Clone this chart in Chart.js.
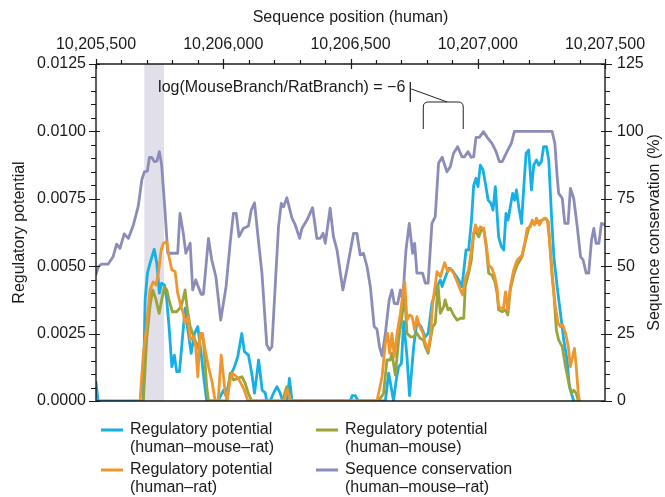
<!DOCTYPE html>
<html>
<head>
<meta charset="utf-8">
<script src="https://cdn.jsdelivr.net/npm/chart.js@4/dist/chart.umd.min.js"></script>
<style>
  html, body { margin: 0; padding: 0; background: #ffffff; }
  #wrap { width: 665px; height: 497px; }
</style>
</head>
<body>
<div id="wrap"><canvas id="c" width="665" height="497"></canvas></div>
<script>
// ---------- DATA ----------
const START = 10205500;              // first position on the axis (bp)
const SPAN = 2000;                   // axis length (bp)
const X_TICK_STEP = 500;

// Sequence conservation (human-mouse-rat), % ; positions are bp offsets from START
const consPos = [0,9,22,48,67,81,94,111,127,147,166,180,190,202,210,219,229,239,249,258,271,282,321,330,343,353,370,380,392,413,422,442,455,471,490,511,527,540,551,562,579,599,610,623,638,652,671,682,691,704,717,728,737,750,770,783,800,809,829,851,868,881,892,901,920,933,947,970,988,1012,1025,1038,1051,1065,1078,1093,1104,1114,1124,1137,1152,1163,1172,1185,1196,1205,1218,1231,1244,1252,1261,1283,1294,1305,1320,1333,1346,1360,1379,1392,1405,1421,1438,1448,1462,1474,1484,1493,1506,1523,1537,1556,1572,1585,1596,1615,1632,1644,1792,1803,1812,1818,1832,1842,1855,1864,1877,1891,1904,1914,1926,1936,1947,1956,1965,1976,1986,2000];
const consVal = [47,49.8,50.8,50.8,53.5,58.2,56.6,62,60.3,65.3,72.3,82,85,85.3,90.4,90.4,88.8,89,92.5,87.5,70.8,54.8,54.8,69.6,62.2,54.8,58.5,41.2,44.9,39.6,39.6,60.3,52.3,46.1,30,42.4,58.5,69.6,69.6,61,64,64.9,70.8,73.5,59.7,47.4,20.8,18.9,20.1,42.4,64.6,73.3,72,75.4,67.8,65.3,60.3,64,67.1,71.7,60.3,60.3,62.2,58.5,71.5,61,56,41.2,49.8,62.2,62.2,54.2,54.8,49.8,42.4,27.6,26.6,20.1,16.7,25.1,37.5,41.2,36.2,36,41.2,37.5,56,65.9,54.8,58.5,47.4,47.4,43.7,43.7,65.9,68.4,88.2,90.4,85,86.9,91.9,94.3,90.6,90.6,92.5,90.4,90.6,97.8,97.8,99.9,97.8,95.6,92.5,88.8,88.8,92.5,95.6,100,100,95.6,83.2,77,75.2,65.9,65.9,78.9,75.2,64.6,53.5,52.3,47.4,47.4,59.7,64,58.5,58.5,65.9,65.3];

// Regulatory potential (human-mouse-rat)
const hmrPos = [0,8,185,193,202,212,229,239,249,258,269,278,287,298,308,317,328,339,350,361,374,387,400,413,426,435,480,488,501,511,527,544,557,573,583,599,612,623,639,653,665,671,684,697,711,724,734,751,760,770,999,1007,1019,1030,1137,1150,1160,1169,1180,1189,1200,1209,1222,1232,1248,1261,1277,1294,1305,1320,1340,1353,1360,1366,1386,1399,1425,1438,1454,1464,1475,1484,1493,1501,1510,1521,1530,1541,1552,1560,1569,1582,1593,1602,1611,1619,1637,1645,1652,1661,1672,1681,1690,1700,1711,1720,1731,1740,1750,1759,1770,1779,1790,1799,1812,1825,1838,1851,1860,1868,1877];
const hmrVal = [0.0007,0,0,0.00375,0.00474,0.0051,0.00563,0.0051,0.004,0.00437,0.0043,0.00375,0.00276,0.00127,0.0017,0.00109,0.00109,0.00226,0.00344,0.00263,0.00177,0.00251,0.00276,0.00177,0.00066,0,0,0.00016,0.0004,0.0002,0.0009,0.00127,0.00164,0.00251,0.00183,0.0017,0.00103,0.00029,0.00152,0.0004,0.0003,0,0,0.00028,0.00053,0.00028,0,0,0.00084,0,0,0.0002,0.0002,0,0,0.00103,0.0005,0,0.0008,0.00127,0.0014,0.00294,0.00164,0.0002,0.002,0.00294,0.00276,0.00238,0.00251,0.00362,0.00424,0.00449,0.00424,0.00442,0.00492,0.00486,0.00449,0.00424,0.0056,0.0056,0.00665,0.008,0.00826,0.00795,0.00875,0.00857,0.00807,0.00745,0.00733,0.00708,0.00795,0.00609,0.00572,0.0056,0.00696,0.00671,0.0077,0.00745,0.00783,0.00721,0.00659,0.00795,0.00919,0.00931,0.00783,0.00875,0.00894,0.00875,0.00888,0.00943,0.00943,0.00894,0.00684,0.00535,0.00424,0.00325,0.00226,0.00152,0.00053,0.00028,0];

// Regulatory potential (human-mouse)
const hmPos = [186,199,212,223,236,248,258,269,278,287,300,317,334,343,350,359,370,389,400,413,422,435,442,515,527,540,557,573,586,599,612,735,743,750,766,1110,1130,1143,1156,1163,1176,1189,1202,1213,1222,1235,1248,1261,1274,1287,1294,1305,1323,1333,1344,1353,1366,1372,1383,1392,1405,1419,1432,1445,1451,1464,1475,1484,1493,1504,1514,1523,1533,1543,1556,1567,1576,1582,1596,1609,1618,1628,1641,1655,1674,1687,1700,1714,1727,1753,1766,1777,1786,1799,1809,1818,1832,1845,1858,1868,1877,1887,1895];
const hmVal = [0,0.00226,0.0035,0.00412,0.00375,0.00325,0.00375,0.00424,0.00412,0.00375,0.00331,0.00331,0.0035,0.00381,0.00412,0.00338,0.00276,0.00226,0.00195,0.00251,0.00226,0.00053,0,0,0.00103,0.00078,0.00084,0.0009,0.00066,0.00028,0,0,0.00034,0.00053,0,0,0.00028,0.00152,0.00152,0.00177,0.00096,0.00226,0.00313,0.00387,0.00251,0.00238,0.00238,0.00251,0.00232,0.00226,0.00201,0.00177,0.00276,0.00288,0.0043,0.00325,0.0035,0.00375,0.00338,0.00344,0.00319,0.003,0.00307,0.00307,0.00424,0.00474,0.00523,0.00622,0.00628,0.00609,0.00634,0.0064,0.00572,0.00474,0.00467,0.00442,0.004,0.00338,0.00331,0.00338,0.00319,0.00412,0.00467,0.00504,0.00535,0.00591,0.0064,0.00665,0.00659,0.00671,0.00678,0.00665,0.00548,0.004,0.00263,0.00226,0.00201,0.00127,0.00066,0.00028,0.0004,0.00028,0];

// Regulatory potential (human-rat)
const hrPos = [173,186,199,212,225,236,245,256,265,278,287,298,311,321,334,343,350,361,370,383,392,400,409,418,429,442,457,468,480,492,505,514,527,536,553,566,583,597,739,751,759,767,1104,1124,1137,1146,1154,1163,1172,1183,1196,1206,1213,1222,1232,1242,1252,1261,1272,1285,1294,1305,1314,1323,1340,1353,1370,1382,1392,1405,1419,1432,1441,1451,1464,1475,1484,1491,1501,1510,1523,1533,1543,1556,1567,1576,1582,1593,1601,1609,1618,1628,1641,1655,1674,1687,1694,1707,1714,1723,1731,1742,1753,1763,1773,1782,1792,1805,1816,1825,1834,1845,1856,1864,1880,1887,1895,1900];
const hrVal = [0,0.00177,0.00276,0.00412,0.00442,0.0043,0.00474,0.0056,0.00585,0.00591,0.00535,0.00486,0.0048,0.004,0.0035,0.00325,0.00288,0.00313,0.00226,0.00238,0.00201,0.0009,0.00251,0.00251,0.00189,0.00127,0.00066,0,0,0.0017,0.00053,0,0.00078,0.00103,0.0009,0.00072,0.0004,0,0,0.0004,0.0002,0,0,0.0009,0.00214,0.00251,0.00177,0.00251,0.00164,0.00251,0.00325,0.004,0.00442,0.003,0.00319,0.00313,0.00263,0.00313,0.00276,0.00251,0.00214,0.00189,0.00238,0.00362,0.0048,0.00461,0.00513,0.0048,0.00492,0.00474,0.00442,0.00412,0.00393,0.00455,0.00486,0.0056,0.00622,0.00653,0.00628,0.00646,0.0064,0.00585,0.00504,0.00492,0.00461,0.00418,0.0035,0.00344,0.00344,0.00405,0.00338,0.00424,0.00486,0.00523,0.00541,0.00597,0.0064,0.00646,0.00671,0.00653,0.00678,0.00653,0.00671,0.00678,0.00671,0.00597,0.00461,0.0035,0.00288,0.00276,0.00282,0.00251,0.00201,0.00127,0.00195,0.00127,0.00028,0];

// Axis ranges / ticks
const REG_MAX = 0.0125, REG_STEP = 0.0025, REG_MINOR = 0.0005;
const CONS_MAX = 125, CONS_STEP = 25, CONS_MINOR = 5;
const X_MINOR = 100;

// Highlighted region (bp offsets)
const BAND = [190, 267];

// Annotation
const ANNOT_TEXT = 'log(MouseBranch/RatBranch) = \u22126';
const ANNOT_AT = { x: 244, y: 0.01161 };
const ANNOT_BAR = { x: 1235, y0: 0.011832, y1: 0.011091 };
const ANNOT_DIAG = { x0: 1239, y0: 0.011573, x1: 1380, y1: 0.011091 };
const ANNOT_BRACKET = { x0: 1286, x1: 1443, yTop: 0.011091, yBot: 0.010089 };

// Legend entries (in legend reading order)
const LEGEND = [
  { key: 'hmr', lines: ['Regulatory potential', '(human\u2013mouse\u2013rat)'] },
  { key: 'hm',  lines: ['Regulatory potential', '(human\u2013mouse)'] },
  { key: 'hr',  lines: ['Regulatory potential', '(human\u2013rat)'] },
  { key: 'cons',lines: ['Sequence conservation', '(human\u2013mouse\u2013rat)'] }
];

const COLORS = { hmr: '#16afe6', hm: '#9aa43b', hr: '#f0962f', cons: '#8b8db8', band: '#e1dfea', ink: '#1a1a1a' };
const FONT = "'Liberation Sans', Arial, Helvetica, sans-serif";
const FS = 16;

// ---------- BUILD ----------
const toXY = (pos, val) => pos.map((p, i) => ({ x: START + p, y: val[i] }));

function lineDs(key, label, pos, val, axis, order) {
  return {
    key, label, data: toXY(pos, val), yAxisID: axis, order,
    borderColor: COLORS[key], backgroundColor: COLORS[key],
    borderWidth: 2.8, pointRadius: 0, pointHoverRadius: 0, tension: 0,
    borderJoinStyle: 'round', borderCapStyle: 'round', clip: 0, fill: false
  };
}

const datasets = [
  lineDs('hr', 'Regulatory potential (human–rat)', hrPos, hrVal, 'y', 1),
  lineDs('hm', 'Regulatory potential (human–mouse)', hmPos, hmVal, 'y', 2),
  lineDs('hmr', 'Regulatory potential (human–mouse–rat)', hmrPos, hmrVal, 'y', 3),
  lineDs('cons', 'Sequence conservation (human–mouse–rat)', consPos, consVal, 'y2', 4)
];

const decor = {
  id: 'decor',
  beforeDatasetsDraw(chart) {
    const { ctx, chartArea: a, scales: { x } } = chart;
    const x0 = x.getPixelForValue(START + BAND[0]);
    const x1 = x.getPixelForValue(START + BAND[1]);
    ctx.save();
    ctx.fillStyle = COLORS.band;
    ctx.fillRect(x0, a.top, x1 - x0, a.bottom - a.top);
    ctx.restore();
  },
  afterDatasetsDraw(chart) {
    const { ctx, chartArea: a, scales: { x, y, y2 } } = chart;
    ctx.save();
    ctx.strokeStyle = COLORS.ink;
    ctx.lineWidth = 1.4;
    ctx.beginPath();
    ctx.moveTo(a.left, a.top); ctx.lineTo(a.right, a.top);
    ctx.moveTo(a.left, a.bottom); ctx.lineTo(a.right, a.bottom);
    ctx.moveTo(a.left, a.top); ctx.lineTo(a.left, a.bottom);
    ctx.moveTo(a.right, a.top); ctx.lineTo(a.right, a.bottom);
    ctx.stroke();
    ctx.lineWidth = 1.2;
    ctx.beginPath();
    const nL = Math.round(REG_MAX / REG_MINOR);
    const perL = Math.round(REG_STEP / REG_MINOR);
    for (let k = 0; k <= nL; k++) {
      const py = Math.round(y.getPixelForValue(k * REG_MINOR)) + 0.5;
      const major = k % perL === 0;
      ctx.moveTo(a.left - (major ? 7 : 5), py);
      ctx.lineTo(a.left + (major ? 4 : 0), py);
    }
    const nR = Math.round(CONS_MAX / CONS_MINOR);
    const perR = Math.round(CONS_STEP / CONS_MINOR);
    for (let k = 0; k <= nR; k++) {
      const py = Math.round(y2.getPixelForValue(k * CONS_MINOR)) + 0.5;
      const major = k % perR === 0;
      ctx.moveTo(a.right - (major ? 4 : 0), py);
      ctx.lineTo(a.right + (major ? 7 : 5), py);
    }
    const nT = Math.round(SPAN / X_MINOR);
    const perT = Math.round(X_TICK_STEP / X_MINOR);
    for (let k = 0; k <= nT; k++) {
      const px = Math.round(x.getPixelForValue(START + k * X_MINOR)) + 0.5;
      const major = k % perT === 0;
      ctx.moveTo(px, a.top - (major ? 5 : 4));
      ctx.lineTo(px, a.top + (major ? 5 : 0));
    }
    ctx.stroke();

    // annotation
    ctx.fillStyle = COLORS.ink;
    ctx.font = FS + 'px ' + FONT;
    ctx.textAlign = 'left';
    ctx.textBaseline = 'middle';
    ctx.fillText(ANNOT_TEXT, x.getPixelForValue(START + ANNOT_AT.x), y.getPixelForValue(ANNOT_AT.y));
    ctx.strokeStyle = '#222';
    ctx.lineWidth = 1.3;
    ctx.beginPath();
    const bx = x.getPixelForValue(START + ANNOT_BAR.x);
    ctx.moveTo(bx, y.getPixelForValue(ANNOT_BAR.y0));
    ctx.lineTo(bx, y.getPixelForValue(ANNOT_BAR.y1));
    ctx.stroke();
    ctx.lineWidth = 1;
    ctx.beginPath();
    ctx.moveTo(x.getPixelForValue(START + ANNOT_DIAG.x0), y.getPixelForValue(ANNOT_DIAG.y0));
    ctx.lineTo(x.getPixelForValue(START + ANNOT_DIAG.x1), y.getPixelForValue(ANNOT_DIAG.y1));
    ctx.stroke();
    const L = x.getPixelForValue(START + ANNOT_BRACKET.x0);
    const R = x.getPixelForValue(START + ANNOT_BRACKET.x1);
    const T = y.getPixelForValue(ANNOT_BRACKET.yTop);
    const B = y.getPixelForValue(ANNOT_BRACKET.yBot);
    const r = 5;
    ctx.beginPath();
    ctx.moveTo(L, B);
    ctx.lineTo(L, T + r);
    ctx.quadraticCurveTo(L, T, L + r, T);
    ctx.lineTo(R - r, T);
    ctx.quadraticCurveTo(R, T, R, T + r);
    ctx.lineTo(R, B);
    ctx.stroke();
    ctx.restore();
  },
  afterDraw(chart) {
    const { ctx, chartArea: a } = chart;
    ctx.save();
    ctx.fillStyle = COLORS.ink;
    ctx.font = FS + 'px ' + FONT;
    ctx.translate(655, (a.top + a.bottom) / 2);
    ctx.rotate(-Math.PI / 2);
    ctx.textAlign = 'center';
    ctx.textBaseline = 'middle';
    ctx.fillText('Sequence conservation (%)', 0, 0);
    ctx.restore();

    ctx.save();
    ctx.font = FS + 'px ' + FONT;
    ctx.textAlign = 'left';
    ctx.textBaseline = 'middle';
    const colX = [101, 316], rowY = [430, 470], lineGap = 18, swatch = 22, textGap = 7;
    LEGEND.forEach((item, i) => {
      const cx = colX[i % 2], cy = rowY[Math.floor(i / 2)];
      const ds = chart.data.datasets.find(d => d.key === item.key);
      ctx.strokeStyle = ds.borderColor;
      ctx.lineWidth = 3;
      ctx.beginPath();
      ctx.moveTo(cx, cy); ctx.lineTo(cx + swatch, cy);
      ctx.stroke();
      ctx.fillStyle = COLORS.ink;
      item.lines.forEach((t, j) => ctx.fillText(t, cx + swatch + textGap, cy + j * lineGap));
    });
    ctx.restore();
  }
};

Chart.defaults.font.family = FONT;
Chart.defaults.font.size = FS;
Chart.defaults.color = COLORS.ink;

new Chart(document.getElementById('c'), {
  type: 'line',
  data: { datasets },
  options: {
    responsive: false,
    animation: false,
    devicePixelRatio: 1,
    layout: { padding: { left: 0, right: 0, top: 0, bottom: 96 } },
    plugins: { legend: { display: false }, tooltip: { enabled: false } },
    scales: {
      x: {
        type: 'linear', position: 'top', min: START, max: START + SPAN,
        grid: { display: false, drawTicks: false }, border: { display: false },
        ticks: { stepSize: X_TICK_STEP, padding: 10, maxRotation: 0, autoSkip: false,
                 callback: v => Number(v).toLocaleString('en-US') },
        title: { display: true, text: 'Sequence position (human)', padding: { top: 8, bottom: 0 } },
        afterFit(s) { s.height = 64; }
      },
      y: {
        type: 'linear', position: 'left', min: 0, max: REG_MAX,
        grid: { display: false, drawTicks: false }, border: { display: false },
        ticks: { stepSize: REG_STEP, padding: 10, callback: v => Number(v).toFixed(4) },
        title: { display: true, text: 'Regulatory potential', padding: { top: 10, bottom: 0 } },
        afterFit(s) { s.width = 96; }
      },
      y2: {
        type: 'linear', position: 'right', min: 0, max: CONS_MAX,
        grid: { display: false, drawTicks: false }, border: { display: false },
        ticks: { stepSize: CONS_STEP, padding: 12, callback: v => String(Math.round(v)) },
        afterFit(s) { s.width = 60; }
      }
    }
  },
  plugins: [decor]
});
</script>
</body>
</html>
